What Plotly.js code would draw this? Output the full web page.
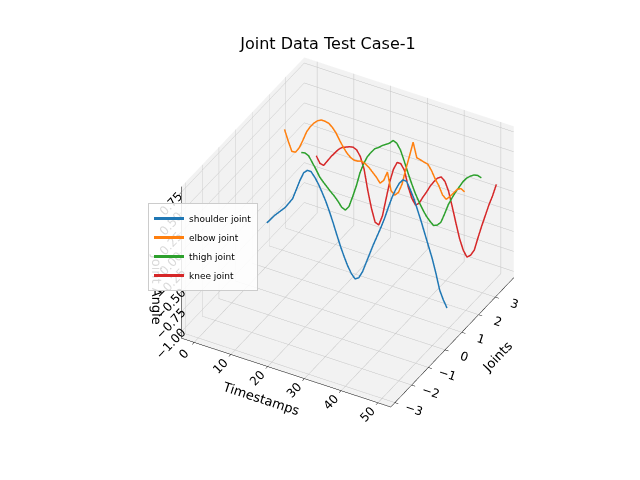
<!DOCTYPE html>
<html>
<head>
<meta charset="utf-8">
<script src="https://cdn.plot.ly/plotly-3.0.1.min.js"></script>
<style>
html,body{margin:0;padding:0;background:#fff;}
#chart{width:640px;height:480px;}
</style>
</head>
<body>
<div id="chart"></div>
<script>
// ---- data ----
var timestamps = [];
for (var t = 0; t < 50; t++) timestamps.push(t);
var jointNames = ["shoulder joint", "elbow joint", "thigh joint", "knee joint"];
var jointPositions = [1.1, 2.15, 3.15, 4.05];
var shoulder = [-0.54,-0.48,-0.42,-0.37,-0.32,-0.27,-0.20,-0.13,0.00,0.13,
  0.24,0.285,0.285,0.23,0.16,0.07,-0.025,-0.14,-0.265,-0.40,
  -0.53,-0.645,-0.75,-0.83,-0.88,-0.85,-0.76,-0.63,-0.50,-0.37,
  -0.25,-0.13,0.00,0.15,0.29,0.405,0.50,0.56,0.555,0.47,
  0.37,0.24,0.11,-0.03,-0.17,-0.31,-0.48,-0.67,-0.78,-0.866];
var elbow = [0.40,0.27,0.155,0.16,0.23,0.34,0.46,0.54,0.60,0.645,
  0.67,0.67,0.66,0.625,0.57,0.49,0.42,0.36,0.32,0.30,
  0.305,0.32,0.30,0.27,0.225,0.18,0.12,0.17,0.29,0.07,
  0.03,0.08,0.20,0.40,0.58,0.77,0.59,0.58,0.565,0.555,
  0.49,0.40,0.33,0.23,0.19,0.24,0.30,0.36,0.385,0.36];
var thigh = [-0.11,-0.10,-0.12,-0.19,-0.26,-0.34,-0.39,-0.435,-0.48,-0.52,
  -0.57,-0.63,-0.65,-0.59,-0.45,-0.30,-0.12,0.01,0.11,0.18,
  0.24,0.27,0.31,0.34,0.37,0.42,0.40,0.33,0.21,0.08,
  -0.04,-0.15,-0.24,-0.32,-0.39,-0.44,-0.48,-0.46,-0.41,-0.29,
  -0.16,-0.06,0.03,0.11,0.19,0.25,0.29,0.32,0.33,0.315];
var knee = [-0.35,-0.43,-0.44,-0.37,-0.30,-0.24,-0.18,-0.14,-0.12,-0.10,
  -0.09,-0.11,-0.18,-0.32,-0.57,-0.78,-0.94,-0.96,-0.83,-0.60,
  -0.37,-0.20,-0.10,-0.10,-0.17,-0.36,-0.49,-0.56,-0.52,-0.43,
  -0.35,-0.26,-0.19,-0.13,-0.10,-0.14,-0.25,-0.43,-0.62,-0.80,
  -0.93,-1.00,-0.96,-0.88,-0.71,-0.55,-0.40,-0.25,-0.12,0.034];
var angleSeries = [shoulder, elbow, thigh, knee];
var colors = ["#1f77b4", "#ff7f0e", "#2ca02c", "#d62728"];
var xTicks = [0, 10, 20, 30, 40, 50];
var yTicks = [-3, -2, -1, 0, 1, 2, 3];
var zTicks = [-1.0, -0.75, -0.5, -0.25, 0.0, 0.25, 0.5, 0.75];

var traces = angleSeries.map(function (vals, i) {
  return {
    type: "scatter3d", mode: "lines", name: jointNames[i],
    x: timestamps,
    y: timestamps.map(function () { return jointPositions[i]; }),
    z: vals,
    line: { color: colors[i], width: 3 }
  };
});
var axisCommon = {
  showbackground: true, backgroundcolor: "rgb(242,242,242)",
  gridcolor: "rgb(195,195,195)", showline: true, linecolor: "#000", linewidth: 1,
  ticks: "outside", ticklen: 4, tickcolor: "#000", zeroline: false, showspikes: false,
  tickfont: { family: "DejaVu Sans", size: 12, color: "#000" }
};
function ax(extra) { return Object.assign({}, axisCommon, extra); }
var layout = {
  width: 640, height: 480,
  margin: { l: 0, r: 0, t: 0, b: 0 },
  paper_bgcolor: "#fff",
  font: { family: "DejaVu Sans", color: "#000" },
  title: { text: "Joint Data Test Case-1", font: { family: "DejaVu Sans", size: 16, color: "#000" },
    x: 328 / 640, xanchor: "center", y: 1 - 43 / 480, yref: "container", yanchor: "middle" },
  showlegend: true,
  legend: { x: 148 / 640, y: 1 - 203 / 480, xanchor: "left", yanchor: "top",
    bgcolor: "rgba(255,255,255,0.85)", bordercolor: "#cccccc", borderwidth: 1,
    itemwidth: 30, tracegroupgap: 0,
    font: { family: "DejaVu Sans", size: 9, color: "#000" } },
  scene: {
    domain: { x: [0, 1], y: [0, 1] },
    aspectmode: "manual", aspectratio: { x: 1, y: 1.05, z: 0.78 },
    camera: {
      projection: { type: "orthographic" },
      eye: { x: 0.674, y: -1.44, z: 1.112 },
      center: { x: -0.10, y: -0.056, z: -0.04 },
      up: { x: 0, y: 0, z: 1 }
    },
    xaxis: ax({ title: { text: "Timestamps", font: { size: 13 } }, range: [-3.5, 53.5], tickvals: xTicks }),
    yaxis: ax({ title: { text: "Joints", font: { size: 13 } }, range: [-3.25, 4.1], tickvals: yTicks }),
    zaxis: ax({ title: { text: "Joint Angle", font: { size: 13 } }, range: [-1.08, 0.82], tickvals: zTicks, tickformat: ".2f" })
  }
};
Plotly.newPlot("chart", traces, layout, { displayModeBar: false });
</script>
</body>
</html>
